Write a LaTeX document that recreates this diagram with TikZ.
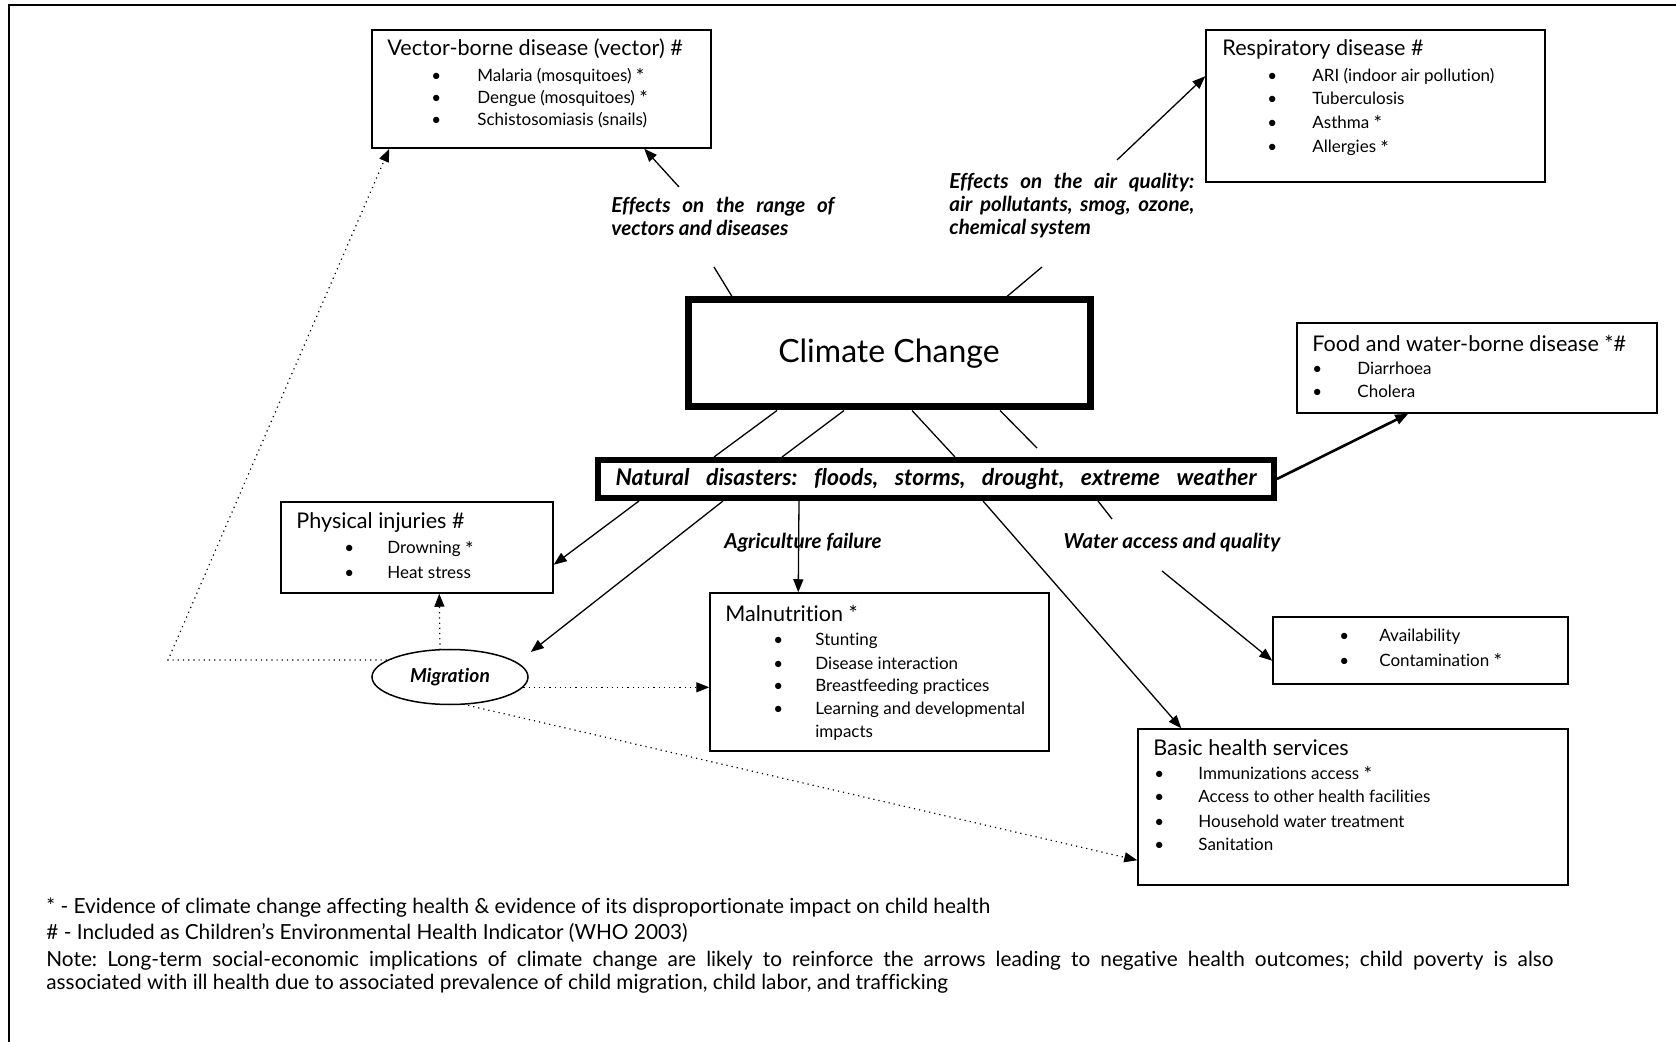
\documentclass[tikz,border=0pt]{standalone}
\usepackage{fontspec}
\setmainfont{Lato}[Ligatures=NoCommon]
\usetikzlibrary{arrows.meta,positioning,fit,calc,shapes.geometric}
\newcommand{\bitem}[2]{\makebox[#1][l]{\textbullet}#2}
\newcommand{\hstar}{\smash{\raisebox{-0.15em}{\fontsize{10}{10}\selectfont *}}}
\tikzset{
  hbox/.style={draw, line width=0.75pt, inner sep=0pt},
  htitle/.style={anchor=west, inner sep=0pt, font=\fontsize{10.8}{13}\selectfont},
  hitem/.style={anchor=west, inner sep=0pt, font=\fontsize{8.5}{10}\selectfont},
  efflbl/.style={anchor=west, inner sep=0pt, align=left, font=\fontsize{10.3}{11.5}\selectfont\bfseries\itshape},
  fnote/.style={anchor=west, inner sep=0pt, align=left, font=\fontsize{10.4}{11.5}\selectfont},
  hlink/.style={line width=0.65pt},
  harr/.style={hlink, -{Triangle[length=6.5pt,width=5pt]}},
  darr/.style={line width=0.6pt, dotted, -{Triangle[length=6.5pt,width=5pt]}}
}
\begin{document}
\frenchspacing
\begin{tikzpicture}[x=0.5pt, y=-0.5pt]
\useasboundingbox (0,0) rectangle (1676,1042);
\draw[line width=1pt] (9,1042) -- (9,5) -- (1676,5);

% outcome boxes
\node[hbox, fit={(372,30) (711,148)}] (vec) {};
\node[hbox, fit={(1206,30) (1545,182)}] (resp) {};
\node[hbox, fit={(1297,323) (1657,413)}] (food) {};
\node[hbox, fit={(281,502) (553,593)}] (phys) {};
\node[hbox, fit={(710,593) (1049,751)}] (mal) {};
\node[hbox, fit={(1273,617) (1568,684)}] (avail) {};
\node[hbox, fit={(1138,729) (1568,885)}] (basic) {};

% box contents
\node[htitle] (vec-t) at (387,49) {Vector-borne disease (vector) \#};
\foreach \txt/\y [count=\i] in {Malaria (mosquitoes) \hstar/76, Dengue (mosquitoes) \hstar/98, Schistosomiasis (snails)/120}
  \node[hitem] (vec-\i) at (431,\y) {\bitem{23pt}{\txt}};

\node[htitle] (resp-t) at (1222,49) {Respiratory disease \#};
\foreach \txt/\y [count=\i] in {ARI (indoor air pollution)/76, Tuberculosis/98, Asthma \hstar/122, Allergies \hstar/148}
  \node[hitem] (resp-\i) at (1267,\y) {\bitem{22.5pt}{\txt}};

\node[htitle] (food-t) at (1312,343) {Food and water-borne disease *\#};
\foreach \txt/\y [count=\i] in {Diarrhoea/368, Cholera/391}
  \node[hitem] (food-\i) at (1312,\y) {\bitem{22.5pt}{\txt}};

\node[htitle] (phys-t) at (296,523) {Physical injuries \#};
\foreach \txt/\y [count=\i] in {Drowning \hstar/549, Heat stress/572}
  \node[hitem] (phys-\i) at (344,\y) {\bitem{21.5pt}{\txt}};

\node[htitle] (mal-t) at (725,613) {Malnutrition *};
\foreach \txt/\y [count=\i] in {Stunting/641, Disease interaction/663, Breastfeeding practices/687, Learning and developmental/710}
  \node[hitem] (mal-\i) at (773,\y) {\bitem{21pt}{\txt}};
\node[hitem] (mal-5) at (815,733) {impacts};

\foreach \txt/\y [count=\i] in {Availability/637, Contamination \hstar/660}
  \node[hitem] (avail-\i) at (1339,\y) {\bitem{20pt}{\txt}};

\node[htitle] (basic-t) at (1153,748) {Basic health services};
\foreach \txt/\y [count=\i] in {Immunizations access \hstar/773, Access to other health facilities/796, Household water treatment/821, Sanitation/844}
  \node[hitem] (basic-\i) at (1154,\y) {\bitem{22pt}{\txt}};

% central nodes
\node[draw, line width=3.5pt, minimum width=201pt, minimum height=53.5pt,
      font=\fontsize{16}{19}\selectfont] (cc) at (889,353.5) {Climate Change};
\node[draw, line width=3pt, minimum width=338pt, minimum height=19pt, inner sep=0pt,
      font=\fontsize{11.5}{12}\selectfont\bfseries\itshape] (nd) at (936,479)
      {\makebox[320.5pt][s]{Natural disasters: floods, storms, drought, extreme weather}};
\node[draw, ellipse, line width=0.75pt, minimum width=78pt, minimum height=27.5pt, inner sep=0pt,
      font=\fontsize{9.6}{11.5}\selectfont\bfseries\itshape] (mig) at (450,677) {Migration};

% pathway labels
\node[efflbl] (rangelbl) at (611,216.5) {\makebox[111.5pt][s]{Effects on the range of}\\vectors and diseases};
\node[efflbl] (airlbl) at (949,205.5) {\makebox[122.5pt][s]{Effects on the air quality:}\\
  \makebox[122.5pt][s]{air pollutants, smog, ozone,}\\chemical system};
\node[efflbl, anchor=center] (agrlbl) at (803,543) {Agriculture failure};
\node[efflbl, anchor=center] (waterlbl) at (1172,543) {Water access and quality};

% connectors
\coordinate (r-top) at (679,187);
\coordinate (r-bot) at (714,267);
\coordinate (a-top) at (1117,160);
\coordinate (a-bot) at (1042,267);
\coordinate (w-a) at (1112,519);
\coordinate (w-b) at (1162,571);
\coordinate (bend) at (168,663);

\draw[harr] (r-top) -- ($(vec.south west)+(273,0)$);
\draw[hlink] (r-bot) -- ($(cc.north west)+(47.5,0)$);
\draw[harr] (a-top) -- ($(resp.north west)+(0,47)$);
\draw[hlink] (a-bot) -- ($(cc.north west)+(322.5,0)$);

\foreach \a/\b in {92.5/119, 159.5/187, 227.5/360}
  \draw[hlink] ($(cc.south west)+(\a,0)$) -- ($(nd.north west)+(\b,0)$);
\draw[hlink] ($(cc.south west)+(315.5,0)$) -- ($(nd.north west)+(442,-9)$);

\draw[harr, line width=1.3pt] (nd.east) -- ($(food.south west)+(112,0)$);
\draw[harr] ($(nd.south west)+(44,0)$) -- ($(phys.south east)+(0,-29)$);
\draw[harr] ($(nd.south west)+(128,0)$) -- ($(mig.east)+(2,-25)$);
\draw[harr] ($(nd.south west)+(204,0)$) -- ($(mal.north west)+(89,0)$);
\draw[harr] ($(nd.south west)+(388,0)$) -- ($(basic.north west)+(44,0)$);
\draw[hlink] ($(nd.south west)+(503,0)$) -- (w-a);
\draw[harr] (w-b) -- ($(avail.south west)+(0,-24)$);

% migration (dotted)
\draw[darr] (mig.165) -- (mig.165 -| bend) -- ($(vec.south west)+(18,0)$);
\draw[darr] ($(mig.north)+(-10,1)$) -- ($(phys.south west)+(159,0)$);
\draw[darr] (mig.-8) -- (mig.-8 -| mal.west);
\draw[darr] ($(mig.south)+(13,-1)$) -- ($(basic.north west)+(0,132)$);

% footnotes
\node[fnote] (fn-star) at (46,908) {* - Evidence of climate change affecting health \& evidence of its disproportionate impact on child health};
\node[fnote] (fn-hash) at (46,933) {\# - Included as Children’s Environmental Health Indicator (WHO 2003)};
\node[fnote] (fn-note) at (46,972) {\makebox[753.5pt][s]{Note: Long-term social-economic implications of climate change are likely to reinforce the arrows leading to negative health outcomes; child poverty is also}\\
  associated with ill health due to associated prevalence of child migration, child labor, and trafficking};
\end{tikzpicture}
\end{document}
